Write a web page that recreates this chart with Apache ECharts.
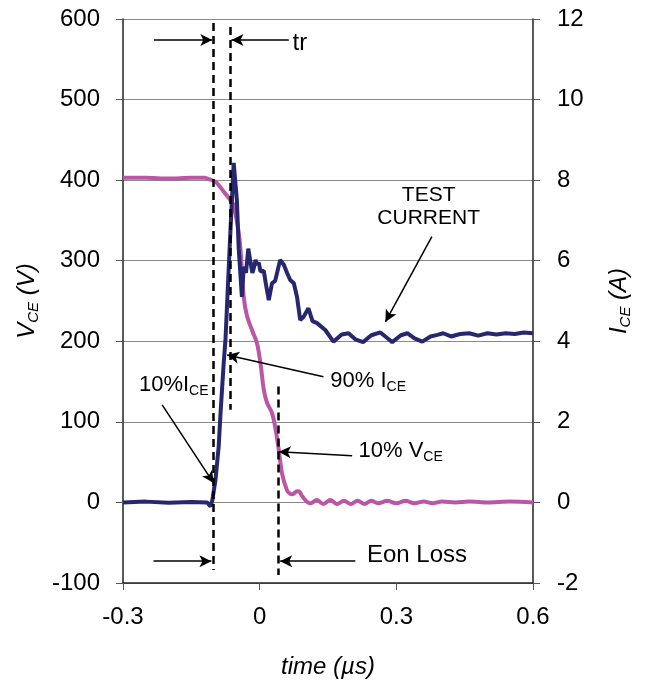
<!DOCTYPE html>
<html>
<head>
<meta charset="utf-8">
<title>Eon loss</title>
<script src="https://cdn.jsdelivr.net/npm/echarts@6/dist/echarts.min.js"></script>
<style>
  html, body { margin: 0; padding: 0; background: #fff; }
  #chart { width: 647px; height: 687px; }
</style>
</head>
<body>
<div id="chart"></div>
<script>
// axis ticks
const timeTicks = [-0.3, 0, 0.3, 0.6]
const vceTicks = [-100, 0, 100, 200, 300, 400, 500, 600]
const iceTicks = [-2, 0, 2, 4, 6, 8, 10, 12]

// V_CE (left axis, V)
const vceTime = [-0.3, -0.25, -0.2, -0.15, -0.12, -0.115, -0.097, -0.079, -0.068, -0.064, -0.058, -0.052, -0.046, -0.042,
  -0.035, -0.028, -0.017, -0.006, 0.002, 0.009, 0.016, 0.027, 0.034, 0.042, 0.049, 0.06, 0.066, 0.071, 0.077, 0.082,
  0.088, 0.093, 0.1, 0.106, 0.112, 0.125, 0.14, 0.155, 0.17, 0.185, 0.2, 0.215, 0.23, 0.245, 0.26, 0.28, 0.3,
  0.32, 0.34, 0.36, 0.38, 0.4, 0.43, 0.46, 0.5, 0.55, 0.6]
const vceValue = [403, 403, 402, 403, 403, 402, 398, 386, 378, 375, 370, 355, 335, 313,
  255, 232, 214, 198, 172, 140, 124, 111, 94, 65, 36, 15, 11, 10, 12, 14,
  13, 8, 3, 0, -1, 3, -2, 3, -2, 2, -2, 2, -2, 2, -1, 2, -1,
  2, -1, 1, -1, 1, 0, 1, 0, 1, 0]

// I_CE (right axis, A)
const iceTime = [-0.3, -0.25, -0.2, -0.15, -0.115, -0.108, -0.104, -0.097, -0.09, -0.086, -0.079, -0.075, -0.066, -0.057,
  -0.053, -0.05, -0.046, -0.039, -0.035, -0.03, -0.025, -0.02, -0.016, -0.013, -0.009, -0.006, -0.002, 0.002, 0.009,
  0.014, 0.02, 0.027, 0.034, 0.045, 0.053, 0.06, 0.067, 0.075, 0.082, 0.089, 0.096, 0.107, 0.116, 0.126, 0.144, 0.162,
  0.18, 0.195, 0.21, 0.227, 0.245, 0.265, 0.28, 0.291, 0.31, 0.324, 0.34, 0.357, 0.375, 0.39, 0.403, 0.42, 0.44,
  0.46, 0.48, 0.5, 0.52, 0.54, 0.56, 0.58, 0.6]
const iceValue = [0, 0.02, -0.01, 0.01, 0, -0.1, 0.05, 0.56, 1.38, 2.2, 3.45, 4.05, 6.3, 8.43,
  7.9, 7.5, 6.3, 5.1, 5.85, 5.7, 6.3, 5.95, 5.7, 5.81, 6.02, 5.9, 5.95, 5.73, 5.75,
  5.4, 5.02, 5.44, 5.5, 6.02, 5.9, 5.7, 5.52, 5.44, 5.1, 4.53, 4.6, 4.82, 4.5, 4.45, 4.28, 3.99,
  4.17, 4.2, 4.05, 3.98, 4.15, 4.22, 4.08, 3.98, 4.15, 4.2, 4.07, 3.99, 4.12, 4.16, 4.2, 4.12, 4.18,
  4.2, 4.14, 4.2, 4.17, 4.2, 4.18, 4.22, 4.2]

// annotations, in [time, V] of the left axis
const dashLines = [
  [[-0.101, 595], [-0.101, -84]],
  [[-0.064, 590], [-0.064, 115]],
  [[0.040, 144], [0.040, -90]]
]
const arrows = [
  [[-0.232, 574], [-0.104, 574]],
  [[0.064, 574], [-0.062, 574]],
  [[-0.233, -73], [-0.106, -73]],
  [[0.210, -73], [0.045, -73]],
  [[0.378, 330], [0.276, 224]],
  [[0.140, 156], [-0.0715, 183]],
  [[-0.214, 121], [-0.101, 24]],
  [[0.203, 58], [0.042, 63]]
]
const notes = [
  { at: [0.072, 570], text: '{a|tr}' },
  { at: [0.371, 367], text: '{b|TEST}\n{b|CURRENT}', align: 'center' },
  { at: [0.155, 151], text: '{m|90% I}{s|CE}' },
  { at: [-0.265, 146], text: '{m|10%I}{s|CE}' },
  { at: [0.217, 64], text: '{m|10% V}{s|CE}' },
  { at: [0.2355, -66], text: '{a|Eon Loss}' }
]

const FONT = '"Liberation Sans", Arial, sans-serif'
const BLUE = '#27276f'
const PINK = '#bd55a6'

let chart = echarts.init(document.getElementById('chart'))

const axisLabelStyle = {
  color: '#000',
  fontSize: 24,
  fontFamily: FONT
}
const nameRich = {
  m: { fontSize: 24, fontStyle: 'italic', fontFamily: FONT, color: '#000', lineHeight: 28 },
  s: { fontSize: 15, fontStyle: 'italic', fontFamily: FONT, color: '#000', lineHeight: 28, verticalAlign: 'bottom' }
}

function pairs(xs, ys) {
  return xs.map((x, i) => [x, ys[i]])
}

chart.setOption({
  animation: false,
  grid: {
    left: 123,
    right: 114,
    top: 19,
    bottom: 104,
    outerBoundsMode: 'none'
  },
  xAxis: {
    type: 'value',
    min: timeTicks[0],
    max: timeTicks[timeTicks.length - 1],
    interval: 0.3,
    name: 'time (µs)',
    nameLocation: 'middle',
    nameGap: 72,
    nameTextStyle: { fontSize: 24, fontStyle: 'italic', fontFamily: FONT, color: '#000' },
    axisLine: { onZero: false, lineStyle: { color: '#222', width: 1.5 } },
    axisTick: { show: true, length: 7, lineStyle: { color: '#555' } },
    axisLabel: Object.assign({ margin: 22, formatter: v => String(Math.round(v * 10) / 10) }, axisLabelStyle),
    splitLine: { show: false }
  },
  yAxis: [
    {
      type: 'value',
      min: vceTicks[0],
      max: vceTicks[vceTicks.length - 1],
      interval: 100,
      name: '{m|V}{s|CE}{m| (V)}',
      nameLocation: 'middle',
      nameRotate: 90,
      nameGap: 80,
      nameTextStyle: { rich: nameRich },
      axisLine: { show: true, onZero: false, lineStyle: { color: '#222', width: 1.5 } },
      axisTick: { show: true, length: 7, lineStyle: { color: '#555' } },
      axisLabel: Object.assign({ margin: 23 }, axisLabelStyle),
      splitLine: { show: true, lineStyle: { color: '#8a8a8a', width: 1 } }
    },
    {
      type: 'value',
      min: iceTicks[0],
      max: iceTicks[iceTicks.length - 1],
      interval: 2,
      name: '{m|I}{s|CE}{m| (A)}',
      nameLocation: 'middle',
      nameRotate: 90,
      nameGap: 72,
      nameTextStyle: { rich: nameRich },
      axisLine: { show: true, onZero: false, lineStyle: { color: '#222', width: 1.5 } },
      axisTick: { show: true, length: 7, lineStyle: { color: '#555' } },
      axisLabel: Object.assign({ margin: 24 }, axisLabelStyle),
      splitLine: { show: false }
    }
  ],
  series: [
    {
      name: 'VCE',
      type: 'line',
      yAxisIndex: 0,
      showSymbol: false,
      smooth: 0.3,
      data: pairs(vceTime, vceValue),
      lineStyle: { color: PINK, width: 4 },
      z: 2,
      markLine: {
        silent: true,
        animation: false,
        label: { show: false },
        emphasis: { disabled: true },
        // dashed markers + arrows
        data: dashLines.map(d => [
          { coord: d[0], symbol: 'none', lineStyle: { color: '#000', width: 2.5, type: [8, 5] } },
          { coord: d[1], symbol: 'none' }
        ]).concat(arrows.map(a => [
          { coord: a[0], symbol: 'none', lineStyle: { color: '#000', width: 1.5, type: 'solid' } },
          { coord: a[1], symbol: 'arrow', symbolSize: [9, 12] }
        ]))
      }
    },
    {
      name: 'ICE',
      type: 'line',
      yAxisIndex: 1,
      showSymbol: false,
      data: pairs(iceTime, iceValue),
      lineStyle: { color: BLUE, width: 4 },
      z: 3
    }
  ]
})

// text notes placed via the axis scales
const noteRich = {
  a: { fontSize: 24, fontFamily: FONT, color: '#000', lineHeight: 26 },
  b: { fontSize: 21, fontFamily: FONT, color: '#000', lineHeight: 23, align: 'center' },
  m: { fontSize: 22, fontFamily: FONT, color: '#000', lineHeight: 26 },
  s: { fontSize: 14, fontFamily: FONT, color: '#000', lineHeight: 26, verticalAlign: 'bottom' }
}
chart.setOption({
  graphic: notes.map(n => {
    const p = chart.convertToPixel({ xAxisIndex: 0, yAxisIndex: 0 }, n.at)
    return {
      type: 'text',
      x: p[0],
      y: p[1],
      silent: true,
      style: {
        text: n.text,
        rich: noteRich,
        align: n.align || 'left',
        verticalAlign: 'middle'
      }
    }
  })
})
</script>
</body>
</html>
